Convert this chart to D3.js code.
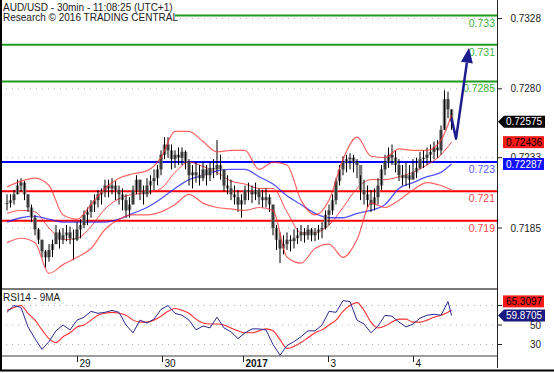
<!DOCTYPE html>
<html>
<head>
<meta charset="utf-8">
<script src="https://cdn.jsdelivr.net/npm/d3@7"></script>
<style>
body { margin: 0; background: #fff; }
svg { display: block; font-family: "Liberation Sans", Arial, sans-serif; }
</style>
</head>
<body>
<div id="plot"></div>
<script>
/*********************** Data *********************/
var titleLines = ["AUD/USD - 30min - 11:08:25 (UTC+1)", "Research \u00a9 2016 TRADING CENTRAL"];

var barHigh = [
  .7208,.7208,.7211,.7218,.7219,.7217,.7208,.7201,.7194,.7185,
  .7177,.7170,.7174,.7177,.7187,.7184,.7185,.7187,.7186,.7184,
  .7189,.7191,.7197,.7199,.7204,.7208,.7211,.7212,.7218,.7218,
  .7219,.7217,.7214,.7212,.7208,.7206,.7214,.7221,.7218,.7214,
  .7219,.7221,.7225,.7228,.7238,.7247,.7247,.7242,.7238,.7240,
  .7240,.7238,.7232,.7228,.7230,.7228,.7230,.7228,.7230,.7232,
  .7245,.7235,.7225,.7221,.7218,.7214,.7211,.7208,.7214,.7216,
  .7214,.7216,.7212,.7211,.7212,.7208,.7201,.7187,.7182,.7180,
  .7182,.7180,.7184,.7185,.7187,.7185,.7187,.7185,.7185,.7187,
  .7189,.7197,.7201,.7208,.7219,.7228,.7234,.7235,.7236,.7235,
  .7232,.7221,.7218,.7214,.7211,.7212,.7219,.7228,.7235,.7240,
  .7242,.7238,.7232,.7228,.7230,.7228,.7232,.7233,.7237,.7238,
  .7240,.7242,.7244,.7245,.7255,.7279,.7278,.7266];
var barLow = [
  .7197,.7199,.7201,.7208,.7210,.7204,.7196,.7189,.7180,.7174,
  .7165,.7158,.7162,.7165,.7174,.7171,.7174,.7176,.7174,.7163,
  .7176,.7178,.7185,.7187,.7192,.7196,.7199,.7201,.7206,.7206,
  .7208,.7204,.7201,.7197,.7192,.7192,.7201,.7208,.7204,.7201,
  .7206,.7208,.7211,.7214,.7221,.7232,.7233,.7225,.7226,.7228,
  .7228,.7225,.7214,.7212,.7216,.7214,.7217,.7214,.7217,.7219,
  .7221,.7218,.7210,.7208,.7204,.7201,.7196,.7192,.7201,.7204,
  .7202,.7204,.7201,.7199,.7199,.7196,.7180,.7170,.7161,.7167,
  .7170,.7169,.7171,.7174,.7176,.7175,.7177,.7176,.7176,.7177,
  .7178,.7184,.7187,.7194,.7201,.7214,.7221,.7223,.7225,.7223,
  .7219,.7204,.7201,.7199,.7196,.7197,.7201,.7211,.7221,.7226,
  .7228,.7223,.7217,.7214,.7214,.7212,.7218,.7219,.7225,.7226,
  .7228,.7230,.7232,.7233,.7235,.7252,.7260,.7252];
var barClose = [
  .7202,.7204,.7208,.7214,.7216,.7208,.7199,.7192,.7184,.7177,
  .7169,.7165,.7170,.7174,.7182,.7177,.7180,.7182,.7178,.7177,
  .7184,.7187,.7194,.7196,.7201,.7204,.7208,.7210,.7214,.7212,
  .7214,.7211,.7208,.7204,.7197,.7201,.7211,.7218,.7210,.7208,
  .7214,.7217,.7219,.7225,.7235,.7242,.7238,.7232,.7235,.7233,
  .7237,.7230,.7221,.7223,.7221,.7219,.7225,.7221,.7226,.7225,
  .7228,.7225,.7214,.7212,.7208,.7206,.7201,.7204,.7211,.7210,
  .7208,.7211,.7206,.7204,.7206,.7201,.7185,.7177,.7171,.7174,
  .7177,.7176,.7178,.7180,.7182,.7180,.7184,.7180,.7182,.7184,
  .7185,.7194,.7197,.7204,.7217,.7225,.7230,.7232,.7233,.7230,
  .7228,.7211,.7208,.7204,.7201,.7206,.7214,.7225,.7230,.7235,
  .7233,.7228,.7221,.7219,.7221,.7218,.7223,.7226,.7232,.7233,
  .7235,.7237,.7240,.7238,.7252,.7273,.7266,.72575];

// indicators sampled every 4 bars (last one on the final bar)
var bbUpper = [.7213,.7217,.7219,.7214,.7194,.7191,.7201,.7212,.7219,.7222,.7224,.7233,.7251,.7251,.7244,.7237,.7238,
  .7238,.7225,.7230,.7228,.7204,.7194,.7204,.7232,.7247,.7234,.7233,.7239,.7238,.7238,.7245,.7262];
var bbMiddle = [.7195,.7197,.7196,.7185,.7177,.7178,.7186,.7198,.7205,.7208,.7209,.7212,.7223,.7230,.7227,.7223,.7217,
  .7215,.7212,.7212,.7196,.7182,.7182,.7187,.7199,.7212,.7218,.7218,.7220,.7223,.7228,.7235,.72436];
var bbLower = [.7175,.7178,.7175,.7154,.7160,.7165,.7171,.7184,.7191,.7194,.7194,.7196,.7201,.7208,.7202,.7199,.7198,
  .7197,.7199,.7197,.7165,.7161,.7171,.7174,.7165,.7177,.7202,.7199,.7204,.7211,.7216,.7214,.7211];
var maLong = [.7189,.7192,.7193,.7191,.7189,.7189,.7189,.7189,.7191,.7195,.7199,.7205,.7212,.7218,.7221,.7224,.7225,
  .7225,.7220,.7215,.7207,.7201,.7195,.7192,.7192,.7195,.7197,.7201,.7212,.7216,.7220,.7223,.72287];

// RSI sampled every 2 bars (last one on the final bar)
var rsi14 = [63,70,68,48,36,25,33,44,50,45,55,58,64,62,63,65,63,50,42,55,52,56,66,70,62,60,55,45,49,47,58,47,43,36,
  42,46,46,45,30,19,29,33,38,44,44,50,64,63,75,74,55,51,42,49,60,59,53,48,51,57,60,61,60,74,59.8705];
var rsiMa9 = [65,68,70,62,55,45,36,32,38,42,48,50,55,60,62,63,62,60,55,53,53,55,59,64,67,65,62,56,52,51,51,50,47,44,
  42,42,44,46,44,35,26,28,32,37,42,45,50,55,64,70,73,65,53,47,49,53,56,56,53,53,55,58,60,63,65.3097];

var priceTicks = [0.7185, 0.7233, 0.7280, 0.7328];
var rsiTicks = [30, 50, 70];
var rsiTickLabels = [30, 50];   // 70 sits under the value tag
var dayLabels = ["29", "30", "2017", "3", "4"];
var dayBar = [20, 44.3, 67.4, 91.7, 116];

var levels = [
  {v: 0.733, label: "0.733", kind: "res"},
  {v: 0.731, label: "0.731", kind: "res"},
  {v: 0.7285, label: "0.7285", kind: "res"},
  {v: 0.723, label: "0.723", kind: "piv"},
  {v: 0.721, label: "0.721", kind: "sup"},
  {v: 0.719, label: "0.719", kind: "sup"}
];
var arrowBars = [127, 128.3, 132];
var arrowPrices = [0.7260, 0.7246, 0.7308];

/*********************** Plot Below *********************/
var width = 554, height = 373;
var axisX = 497;
var mainBottom = 289, rsiBottom = 356;

var xScale = d3.scaleLinear().domain([0, 127]).range([7, 451.5]);
var yScale = d3.scaleLinear().domain([0.7185, 0.7328]).range([228, 18.5]);
var rScale = d3.scaleLinear().domain([30, 70]).range([344.5, 305.5]);

var levelColor = {res: "#1f9a1f", piv: "#0000ff", sup: "#ff0000"};
var levelText = {res: "#3cb43c", piv: "#5a5aff", sup: "#ff4a4a"};

var svg = d3.select("#plot").append("svg")
  .attr("width", width)
  .attr("height", height);

var defs = svg.append("defs");
defs.append("clipPath").attr("id", "clipMain")
  .append("rect").attr("x", 0).attr("y", 0).attr("width", axisX).attr("height", mainBottom);
defs.append("clipPath").attr("id", "clipRsi")
  .append("rect").attr("x", 0).attr("y", mainBottom + 1).attr("width", axisX).attr("height", rsiBottom - mainBottom - 1);

var main = svg.append("g").attr("clip-path", "url(#clipMain)");

// dotted grid
main.selectAll(".grid").data(priceTicks).enter().append("line")
  .attr("x1", 0).attr("x2", axisX)
  .attr("y1", function(d) { return yScale(d); })
  .attr("y2", function(d) { return yScale(d); })
  .attr("stroke", "#b0b0b0").attr("stroke-dasharray", "1,5");

// support / resistance levels
main.selectAll(".lvl").data(levels).enter().append("line")
  .attr("x1", 0).attr("x2", axisX)
  .attr("y1", function(d) { return yScale(d.v); })
  .attr("y2", function(d) { return yScale(d.v); })
  .attr("stroke", function(d) { return levelColor[d.kind]; })
  .attr("stroke-width", 2);

var sampleIdx = d3.range(0, 125, 4).concat([127]);

function bandLine(values) {
  return d3.line()
    .curve(d3.curveMonotoneX)
    .x(function(d, i) { return xScale(sampleIdx[i]); })
    .y(function(d) { return yScale(d); })(values);
}

main.append("path").attr("d", bandLine(bbMiddle))
  .attr("fill", "none").attr("stroke", "#ff2020").attr("stroke-opacity", 0.8).attr("stroke-width", 1);
main.append("path").attr("d", bandLine(maLong))
  .attr("fill", "none").attr("stroke", "#1a1aff").attr("stroke-opacity", 0.75).attr("stroke-width", 1.3);

// bars
var bars = main.append("g");
barClose.forEach(function(c, i) {
  var o = i === 0 ? barClose[0] : barClose[i - 1];
  var top = yScale(Math.max(o, c)), bot = yScale(Math.min(o, c));
  bars.append("rect")
    .attr("x", xScale(i) - 1.75).attr("width", 3.5)
    .attr("y", top).attr("height", Math.max(1, bot - top))
    .attr("fill", "#7a7a7a");
  bars.append("line")
    .attr("x1", xScale(i)).attr("x2", xScale(i))
    .attr("y1", yScale(barHigh[i])).attr("y2", yScale(barLow[i]))
    .attr("stroke", "#000").attr("stroke-width", 1);
});

main.append("path").attr("d", bandLine(bbUpper))
  .attr("fill", "none").attr("stroke", "#ff3030").attr("stroke-opacity", 0.75).attr("stroke-width", 1.2);
main.append("path").attr("d", bandLine(bbLower))
  .attr("fill", "none").attr("stroke", "#ff3030").attr("stroke-opacity", 0.75).attr("stroke-width", 1.2);

// level labels
main.selectAll(".lvlText").data(levels).enter().append("text")
  .attr("x", axisX - 2)
  .attr("y", function(d) { return yScale(d.v) + 11; })
  .attr("text-anchor", "end")
  .attr("font-size", 10.5)
  .attr("fill", function(d) { return levelText[d.kind]; })
  .text(function(d) { return d.label; });

// projection arrow
var arrowPts = arrowBars.map(function(b, i) { return [xScale(b), yScale(arrowPrices[i])]; });
var tip = arrowPts[2], prev = arrowPts[1];
var ang = Math.atan2(tip[1] - prev[1], tip[0] - prev[0]);
var headLen = 15, headW = 6;
var base = [tip[0] - headLen * Math.cos(ang), tip[1] - headLen * Math.sin(ang)];
main.append("path")
  .attr("d", d3.line()(arrowPts.slice(0, 2).concat([base])))
  .attr("fill", "none").attr("stroke", "#1c1c8e").attr("stroke-width", 2.5).attr("stroke-linejoin", "round");
main.append("path")
  .attr("d", "M" + tip[0] + "," + tip[1] +
    "L" + (base[0] + headW * Math.sin(ang)) + "," + (base[1] - headW * Math.cos(ang)) +
    "L" + (base[0] - headW * Math.sin(ang)) + "," + (base[1] + headW * Math.cos(ang)) + "Z")
  .attr("fill", "#1c1c8e");

// title block
svg.append("rect").attr("x", 2).attr("y", 1).attr("width", 173).attr("height", 22).attr("fill", "#fff");
svg.selectAll(".title").data(titleLines).enter().append("text")
  .attr("x", 3)
  .attr("y", function(d, i) { return 10.5 + i * 10.5; })
  .attr("font-size", 10)
  .attr("fill", "#1a1a1a")
  .text(function(d) { return d; });

/*********************** RSI panel *********************/
var rsiG = svg.append("g").attr("clip-path", "url(#clipRsi)");
var rsiIdx = d3.range(0, 127, 2).concat([127]);

rsiG.selectAll(".rgrid").data(rsiTicks).enter().append("line")
  .attr("x1", 0).attr("x2", axisX)
  .attr("y1", function(d) { return rScale(d); })
  .attr("y2", function(d) { return rScale(d); })
  .attr("stroke", "#b0b0b0").attr("stroke-dasharray", "1,5");

var rsiLine = d3.line()
  .x(function(d, i) { return xScale(rsiIdx[i]); })
  .y(function(d) { return rScale(d); });

rsiG.append("path").attr("d", rsiLine.curve(d3.curveMonotoneX)(rsiMa9))
  .attr("fill", "none").attr("stroke", "#ff3030").attr("stroke-width", 1.1);
rsiG.append("path").attr("d", rsiLine.curve(d3.curveLinear)(rsi14))
  .attr("fill", "none").attr("stroke", "#2a2a90").attr("stroke-width", 1);

svg.append("text").attr("x", 3).attr("y", 301)
  .attr("font-size", 10).attr("fill", "#1a1a1a").text("RSI14 - 9MA");

/*********************** Frame & axes *********************/
svg.append("line").attr("x1", 0).attr("x2", axisX).attr("y1", mainBottom).attr("y2", mainBottom)
  .attr("stroke", "#7a7a7a").attr("stroke-width", 2);
svg.append("line").attr("x1", 0).attr("x2", axisX).attr("y1", rsiBottom).attr("y2", rsiBottom)
  .attr("stroke", "#7a7a7a").attr("stroke-width", 1.5);
svg.append("line").attr("x1", axisX + 0.5).attr("x2", axisX + 0.5).attr("y1", 0).attr("y2", 368)
  .attr("stroke", "#222").attr("stroke-width", 1);
svg.append("line").attr("x1", 1).attr("x2", 1).attr("y1", 0).attr("y2", 371)
  .attr("stroke", "#000").attr("stroke-width", 2);
svg.append("line").attr("x1", 0).attr("x2", width).attr("y1", 370.5).attr("y2", 370.5)
  .attr("stroke", "#000").attr("stroke-width", 2);

// price axis
var yAxisG = svg.append("g");
yAxisG.selectAll("line").data(priceTicks).enter().append("line")
  .attr("x1", axisX).attr("x2", axisX + 5)
  .attr("y1", function(d) { return yScale(d); })
  .attr("y2", function(d) { return yScale(d); })
  .attr("stroke", "#222");
yAxisG.selectAll("text").data(priceTicks).enter().append("text")
  .attr("x", 541).attr("y", function(d) { return yScale(d) + 3.5; })
  .attr("text-anchor", "end").attr("font-size", 10).attr("fill", "#222")
  .text(function(d) { return d3.format(".4f")(d); });

// rsi axis
var rAxisG = svg.append("g");
rAxisG.selectAll("line").data(rsiTicks).enter().append("line")
  .attr("x1", axisX).attr("x2", axisX + 5)
  .attr("y1", function(d) { return rScale(d); })
  .attr("y2", function(d) { return rScale(d); })
  .attr("stroke", "#222");
rAxisG.selectAll("text").data(rsiTickLabels).enter().append("text")
  .attr("x", 541).attr("y", function(d) { return rScale(d) + 3.5; })
  .attr("text-anchor", "end").attr("font-size", 10).attr("fill", "#222")
  .text(function(d) { return d; });

// time axis
var tG = svg.append("g");
dayBar.forEach(function(b, i) {
  var xp = Math.round(xScale(b)) + 0.5;
  tG.append("line").attr("x1", xp).attr("x2", xp).attr("y1", rsiBottom).attr("y2", rsiBottom + 6)
    .attr("stroke", "#222");
  tG.append("text").attr("x", xp + 2).attr("y", 366.5)
    .attr("font-size", 10).attr("fill", "#111")
    .attr("font-weight", dayLabels[i] === "2017" ? "bold" : "normal")
    .text(dayLabels[i]);
});

/*********************** Value tags *********************/
function tag(yc, txt, fill, color, pointer) {
  var g = svg.append("g");
  if (pointer) {
    g.append("path")
      .attr("d", "M" + (axisX + 1) + "," + yc + "L" + (axisX + 7) + "," + (yc - 6) + "L545," + (yc - 6) +
        "L545," + (yc + 6) + "L" + (axisX + 7) + "," + (yc + 6) + "Z")
      .attr("fill", fill);
  } else {
    g.append("rect").attr("x", 503).attr("y", yc - 6).attr("width", 41).attr("height", 12).attr("fill", fill);
  }
  g.append("text").attr("x", 524).attr("y", yc + 3.6)
    .attr("text-anchor", "middle").attr("font-size", 10).attr("fill", color).text(txt);
}

var lastClose = barClose[barClose.length - 1];
tag(yScale(lastClose), d3.format(".5f")(lastClose), "#000", "#fff", true);
tag(yScale(bbMiddle[bbMiddle.length - 1]), d3.format(".5f")(bbMiddle[bbMiddle.length - 1]), "#ff1a1a", "#000", false);
tag(yScale(maLong[maLong.length - 1]), d3.format(".5f")(maLong[maLong.length - 1]), "#1010ff", "#fff", false);

var lastRsi = rsi14[rsi14.length - 1], lastMa = rsiMa9[rsiMa9.length - 1];
tag(Math.min(rScale(lastMa), rScale(lastRsi) - 14), d3.format(".4f")(lastMa), "#ff1a1a", "#000", false);
tag(rScale(lastRsi), d3.format(".4f")(lastRsi), "#1a1a80", "#fff", true);
</script>
</body>
</html>
